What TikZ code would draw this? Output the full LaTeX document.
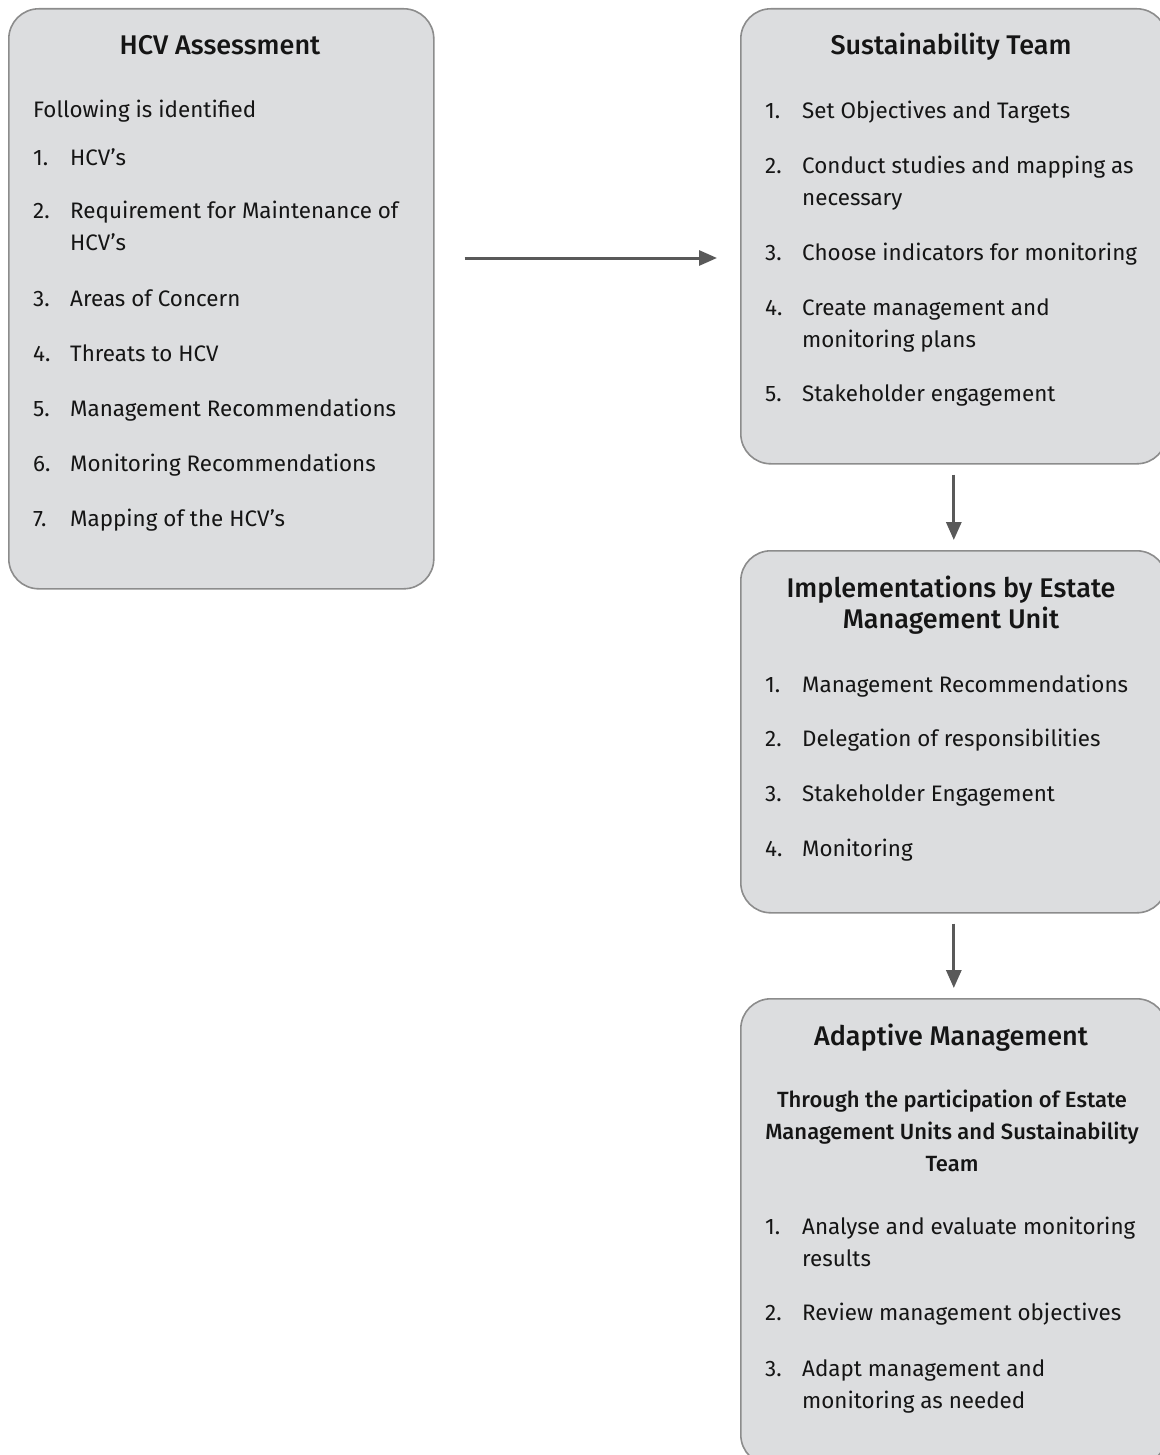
\documentclass[tikz,border=0pt]{standalone}
\usepackage{fontspec}
\setmainfont{Fira Sans}[BoldFont={Fira Sans Medium}]
\usetikzlibrary{arrows.meta}
\definecolor{boxfill}{HTML}{DCDDDF}
\definecolor{boxline}{HTML}{8C8C8C}
\definecolor{arrowgray}{HTML}{595959}
\definecolor{ink}{HTML}{151515}
\tikzset{
  panel/.style={draw=boxline, line width=1.6pt, fill=boxfill, rounded corners=30pt,
    rectangle, inner sep=0pt, anchor=north west},
  title/.style={font=\fontsize{27}{30}\selectfont\bfseries, text=ink, inner sep=0pt, anchor=base},
  subtitle/.style={font=\fontsize{22}{30}\selectfont\bfseries, text=ink, inner sep=0pt, anchor=base},
  txt/.style={font=\fontsize{22.4}{30}\selectfont, text=ink, inner sep=0pt, anchor=base west},
  arr/.style={draw=arrowgray, line width=3pt,
    -{Triangle[length=18pt,width=15pt]}, arrowgray},
}
\begin{document}
\begin{tikzpicture}[x=1pt,y=-1pt]
\useasboundingbox (0,0) rectangle (1159,1455);

% boxes
\node[panel, minimum width=425pt, minimum height=580pt] (hcv) at (8,8) {};
\node[panel, minimum width=426pt, minimum height=455pt] (sus) at (740,8) {};
\node[panel, minimum width=426pt, minimum height=362pt] (imp) at (740,550) {};
\node[panel, minimum width=426pt, minimum height=466pt] (ada) at (740,998) {};

% HCV Assessment
\node[title] (hcv-t) at (220,55) {HCV Assessment};
\node[txt] (hcv-i) at (33,118) {Following is identified};
\node[txt] (hcv-n1) at (33,166) {1.};
\node[txt] (hcv-1) at (70,166) {HCV’s};
\node[txt] (hcv-n2) at (33,219) {2.};
\node[txt] (hcv-2a) at (70,219) {Requirement for Maintenance of};
\node[txt] (hcv-2b) at (70,251) {HCV’s};
\node[txt] (hcv-n3) at (33,306) {3.};
\node[txt] (hcv-3) at (70,306) {Areas of Concern};
\node[txt] (hcv-n4) at (33,361) {4.};
\node[txt] (hcv-4) at (70,361) {Threats to HCV};
\node[txt] (hcv-n5) at (33,416) {5.};
\node[txt] (hcv-5) at (70,416) {Management Recommendations};
\node[txt] (hcv-n6) at (33,471) {6.};
\node[txt] (hcv-6) at (70,471) {Monitoring Recommendations};
\node[txt] (hcv-n7) at (33,526) {7.};
\node[txt] (hcv-7) at (70,526) {Mapping of the HCV’s};

% Sustainability Team
\node[title] (sus-t) at (951,55) {Sustainability Team};
\node[txt] (sus-n1) at (765,119) {1.};
\node[txt] (sus-1) at (802,119) {Set Objectives and Targets};
\node[txt] (sus-n2) at (765,174) {2.};
\node[txt] (sus-2a) at (802,174) {Conduct studies and mapping as};
\node[txt] (sus-2b) at (802,206) {necessary};
\node[txt] (sus-n3) at (765,260) {3.};
\node[txt] (sus-3) at (802,260) {Choose indicators for monitoring};
\node[txt] (sus-n4) at (765,315) {4.};
\node[txt] (sus-4a) at (802,315) {Create management and};
\node[txt] (sus-4b) at (802,347) {monitoring plans};
\node[txt] (sus-n5) at (765,401) {5.};
\node[txt] (sus-5) at (802,401) {Stakeholder engagement};

% Implementations by Estate Management Unit
\node[title] (imp-ta) at (951,597) {Implementations by Estate};
\node[title] (imp-tb) at (951,628) {Management Unit};
\node[txt] (imp-n1) at (765,692) {1.};
\node[txt] (imp-1) at (802,692) {Management Recommendations};
\node[txt] (imp-n2) at (765,746) {2.};
\node[txt] (imp-2) at (802,746) {Delegation of responsibilities};
\node[txt] (imp-n3) at (765,801) {3.};
\node[txt] (imp-3) at (802,801) {Stakeholder Engagement};
\node[txt] (imp-n4) at (765,856) {4.};
\node[txt] (imp-4) at (802,856) {Monitoring};

% Adaptive Management
\node[title] (ada-t) at (951,1045) {Adaptive Management};
\node[subtitle] (ada-sa) at (952,1107) {Through the participation of Estate};
\node[subtitle] (ada-sb) at (952,1139) {Management Units and Sustainability};
\node[subtitle] (ada-sc) at (952,1171) {Team};
\node[txt] (ada-n1) at (765,1234) {1.};
\node[txt] (ada-1a) at (802,1234) {Analyse and evaluate monitoring};
\node[txt] (ada-1b) at (802,1266) {results};
\node[txt] (ada-n2) at (765,1320) {2.};
\node[txt] (ada-2) at (802,1320) {Review management objectives};
\node[txt] (ada-n3) at (765,1376) {3.};
\node[txt] (ada-3a) at (802,1376) {Adapt management and};
\node[txt] (ada-3b) at (802,1408) {monitoring as needed};

% connectors
\draw[arr] ([shift={(30,250)}]hcv.north east) -- ([shift={(-23,250)}]sus.north west);
\draw[arr] ([yshift=-10pt]sus.south) -- ([yshift=10pt]imp.north);
\draw[arr] ([yshift=-10pt]imp.south) -- ([yshift=10pt]ada.north);
\end{tikzpicture}
\end{document}
